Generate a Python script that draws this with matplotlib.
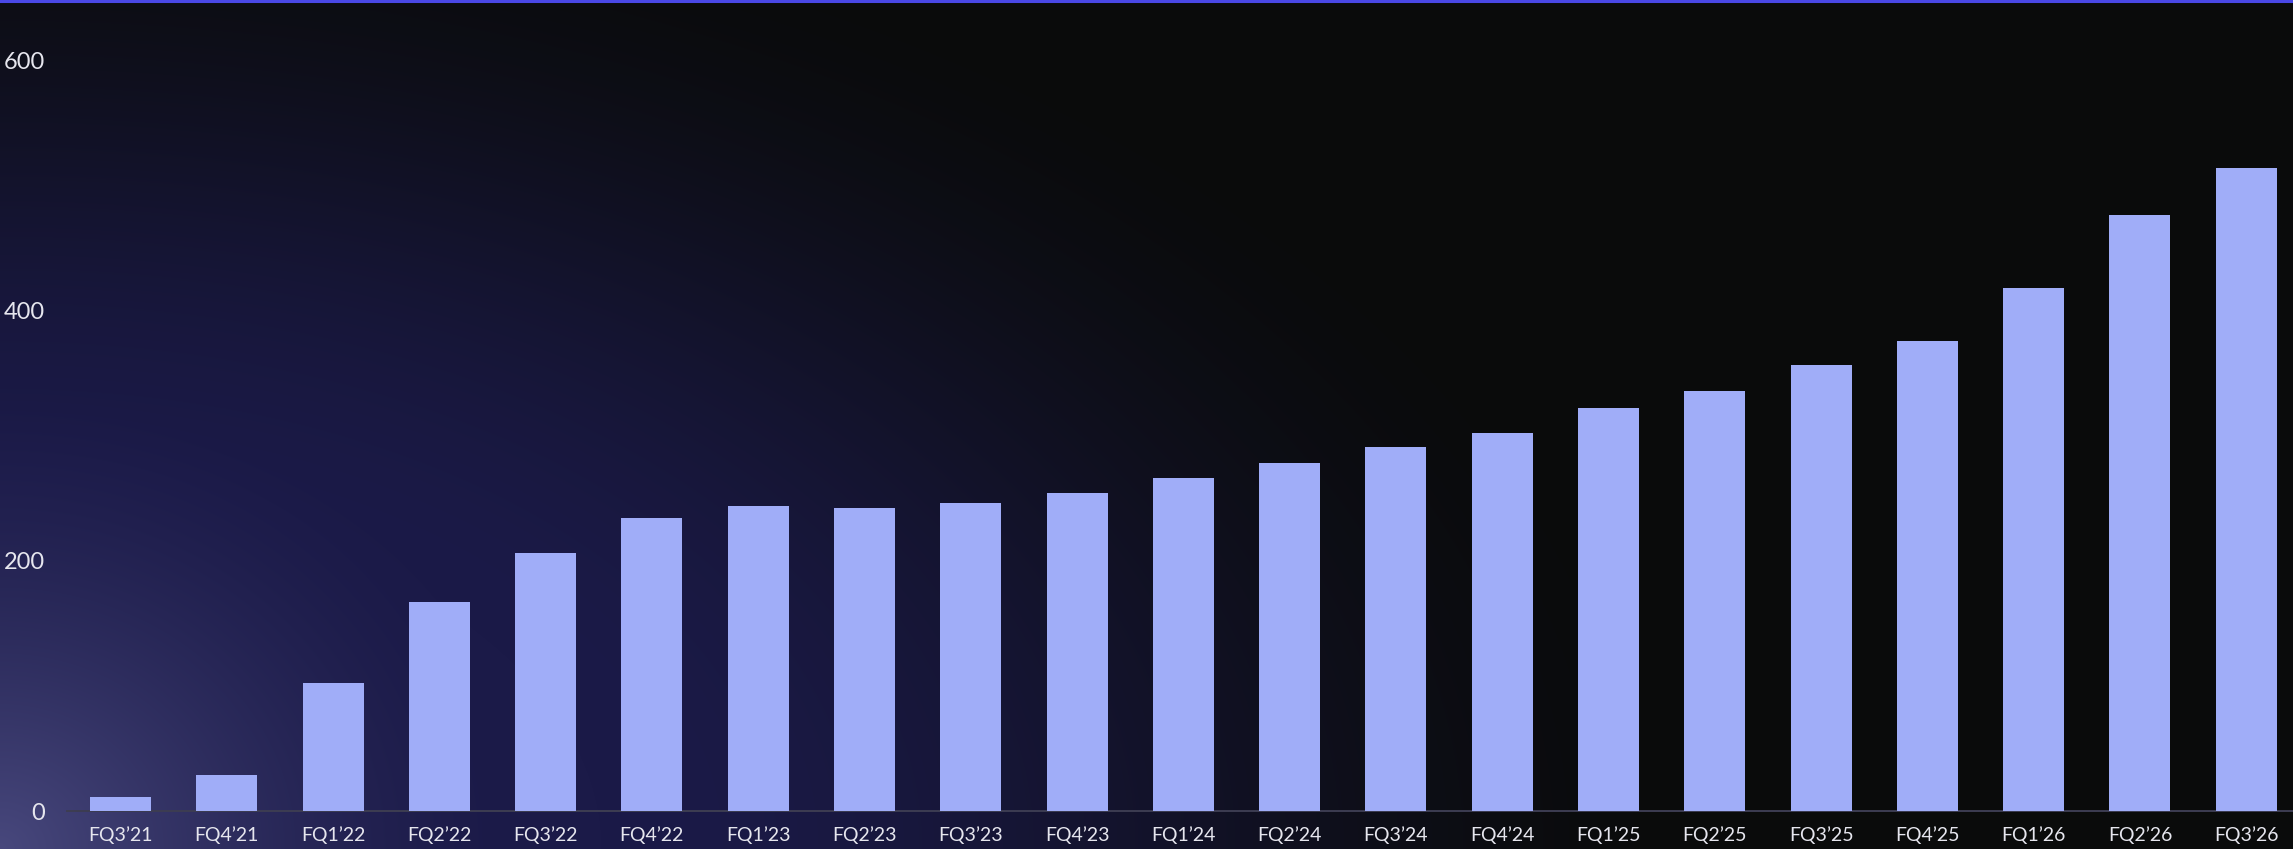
import numpy as np
import matplotlib
matplotlib.use("Agg")
import matplotlib.pyplot as plt

# quarterly values
quarters = ["FQ3\u201921", "FQ4\u201921", "FQ1\u201922", "FQ2\u201922", "FQ3\u201922", "FQ4\u201922",
            "FQ1\u201923", "FQ2\u201923", "FQ3\u201923", "FQ4\u201923", "FQ1\u201924", "FQ2\u201924",
            "FQ3\u201924", "FQ4\u201924", "FQ1\u201925", "FQ2\u201925", "FQ3\u201925", "FQ4\u201925",
            "FQ1\u201926", "FQ2\u201926", "FQ3\u201926"]
values = [11, 29, 102, 167, 206, 234, 244, 242, 246, 254, 266, 278,
          291, 302, 322, 336, 357, 376, 418, 477, 514]
yticks = [0, 200, 400, 600]

W, H = 2293, 849
plt.rcParams['font.family'] = ['Lato', 'DejaVu Sans']

fig = plt.figure(figsize=(W / 100, H / 100), dpi=100)

# background: near-black with a navy wash from the lower left
xx, yy = np.meshgrid(np.arange(W), np.arange(H))
u = xx / W
v = (H - yy) / H
base = np.array([10, 11, 11], float)
navy = np.array([27, 26, 72], float)
lav = np.array([72, 72, 125], float)
d1 = np.sqrt((u / 0.75) ** 2 + (v / 1.2) ** 2)
g1 = np.clip((1 - d1) / 0.65, 0, 1)
g1 = g1 * g1 * (3 - 2 * g1)
d2 = np.sqrt((xx / 520.0) ** 2 + ((H - yy) / 460.0) ** 2)
g2 = np.clip(1 - d2, 0, 1) ** 1.5
img = base + (navy - base) * g1[..., None]
img = img + (lav - img) * g2[..., None]
bg = fig.add_axes([0, 0, 1, 1], zorder=-10)
bg.imshow(img.astype(np.uint8), aspect='auto', extent=[0, 1, 0, 1], origin='upper')
bg.axis('off')

# accent line along the top edge
fig.add_artist(plt.Line2D([0, 1], [1 - 1 / H, 1 - 1 / H], color='#4a48e6', lw=2.2,
                          transform=fig.transFigure))

left = 67 / W
bottom = (H - 811) / H
ax = fig.add_axes([left, bottom, 1 - left, (811 - 2) / H])
ax.patch.set_alpha(0)

x = np.arange(len(values))
ax.bar(x, values, width=0.574, color='#a0adf8', zorder=3)

ax.set_xlim(-0.503, 20.44)
ax.set_ylim(0, 647)
ax.set_xticks(x)
ax.set_xticklabels(quarters, fontsize=14, color='#e6e6ee')
ax.set_yticks(yticks)
ax.set_yticklabels([str(v) for v in yticks], fontsize=17, color='#e6e6ee')
ax.tick_params(axis='x', length=0, pad=11)
ax.tick_params(axis='y', length=0, pad=16)

for s in ['top', 'right', 'left']:
    ax.spines[s].set_visible(False)
ax.spines['bottom'].set_color('#3d3d52')
ax.spines['bottom'].set_linewidth(1.4)

fig.savefig("out.png", dpi=100)
